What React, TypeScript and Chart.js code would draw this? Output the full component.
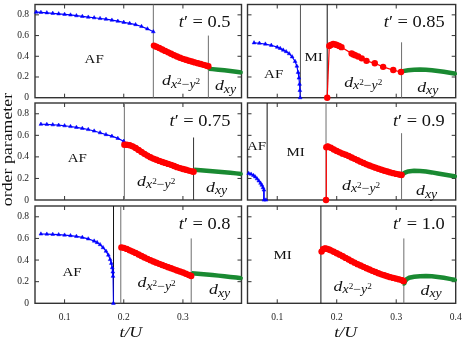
import React, { useEffect, useRef } from 'react';
import { Chart, registerables } from 'chart.js';

Chart.register(...registerables);

type P = [number, number];

// ---- axis values ----
const X_MIN = 0.05;
const X_MAX_LEFT = 0.399;
const X_MAX_RIGHT = 0.4;
const X_STEP = 0.1;
const Y_MIN = 0;
const Y_MAX = 0.9;
const Y_STEP = 0.2;

const tPrimeValues = ['0.5', '0.85', '0.75', '0.9', '0.8', '1.0'];

// ---- t' = 0.5 ----
const af05: P[] = [[0.052,0.826],[0.06,0.824],[0.07,0.820],[0.08,0.815],[0.09,0.810],[0.10,0.805],[0.11,0.799],[0.12,0.792],[0.13,0.785],[0.14,0.778],[0.15,0.772],[0.16,0.765],[0.17,0.758],[0.18,0.749],[0.19,0.739],[0.20,0.728],[0.21,0.718],[0.22,0.706],[0.23,0.688],[0.24,0.665],[0.25,0.637]];
const dx05: P[] = [[0.251,0.503],[0.255,0.492],[0.26,0.48],[0.265,0.466],[0.27,0.452],[0.275,0.438],[0.28,0.424],[0.285,0.411],[0.29,0.398],[0.295,0.386],[0.30,0.375],[0.305,0.366],[0.31,0.357],[0.315,0.349],[0.32,0.341],[0.325,0.333],[0.33,0.325],[0.335,0.317],[0.34,0.309],[0.343,0.304]];
const dxy05: P[] = [[0.344,0.279],[0.35,0.276],[0.36,0.270],[0.37,0.264],[0.38,0.257],[0.39,0.250],[0.399,0.244]];
const bnd05: P[] = [[0.25,0.9],[0.343,0.6]];

// ---- t' = 0.85 ----
const af085: P[] = [[0.061,0.530],[0.07,0.526],[0.08,0.518],[0.09,0.506],[0.10,0.488],[0.105,0.476],[0.11,0.460],[0.115,0.445],[0.12,0.425],[0.125,0.395],[0.13,0.35],[0.133,0.305],[0.135,0.245],[0.1365,0.19],[0.1375,0.13],[0.138,0.07],[0.1385,0.0]];
const dx085: P[] = [[0.184,0],[0.1875,0.50],[0.19,0.51],[0.194,0.518],[0.1975,0.515],[0.2,0.51],[0.204,0.50],[0.208,0.488],[0.225,0.428],[0.228,0.418],[0.231,0.41],[0.236,0.398],[0.242,0.38],[0.25,0.356],[0.264,0.332],[0.278,0.298],[0.295,0.267],[0.308,0.248]];
const dxy085: P[] = [[0.309,0.254],[0.32,0.265],[0.33,0.27],[0.34,0.272],[0.35,0.27],[0.36,0.265],[0.37,0.258],[0.38,0.25],[0.39,0.241],[0.40,0.232]];
const bnd085: P[] = [[0.139,0.9],[0.184,0.9],[0.309,0.535]];

// ---- t' = 0.75 ----
const af075: P[] = [[0.06,0.703],[0.07,0.701],[0.08,0.698],[0.09,0.694],[0.10,0.689],[0.11,0.682],[0.12,0.674],[0.13,0.665],[0.14,0.654],[0.15,0.640],[0.16,0.624],[0.17,0.607],[0.18,0.592],[0.19,0.572],[0.20,0.545]];
const dx075: P[] = [[0.201,0.512],[0.205,0.512],[0.21,0.508],[0.215,0.498],[0.22,0.483],[0.225,0.465],[0.23,0.446],[0.235,0.428],[0.24,0.412],[0.245,0.397],[0.25,0.384],[0.255,0.373],[0.26,0.363],[0.265,0.353],[0.27,0.344],[0.275,0.335],[0.28,0.326],[0.285,0.316],[0.29,0.305],[0.295,0.296],[0.30,0.288],[0.305,0.281],[0.31,0.273],[0.315,0.266],[0.318,0.262]];
const dxy075: P[] = [[0.319,0.28],[0.33,0.276],[0.34,0.272],[0.35,0.267],[0.36,0.262],[0.37,0.257],[0.38,0.252],[0.39,0.247],[0.399,0.242]];
const bnd075: P[] = [[0.201,0.9],[0.318,0.58]];

// ---- t' = 0.9 ----
const af09: P[] = [[0.052,0.247],[0.056,0.240],[0.06,0.228],[0.063,0.215],[0.066,0.197],[0.069,0.177],[0.072,0.156],[0.074,0.138],[0.076,0.115],[0.0776,0.093],[0.0776,0.0],[0.081,0.0]];
const dx09: P[] = [[0.182,0],[0.1825,0.49],[0.185,0.496],[0.19,0.485],[0.195,0.469],[0.20,0.455],[0.205,0.442],[0.21,0.43],[0.215,0.42],[0.22,0.408],[0.225,0.395],[0.23,0.382],[0.235,0.369],[0.24,0.356],[0.245,0.343],[0.25,0.331],[0.255,0.32],[0.26,0.31],[0.265,0.3],[0.27,0.29],[0.275,0.281],[0.28,0.272],[0.285,0.264],[0.29,0.256],[0.295,0.249],[0.30,0.242],[0.305,0.236],[0.309,0.232]];
const dxy09: P[] = [[0.309,0.234],[0.315,0.255],[0.32,0.265],[0.33,0.271],[0.34,0.27],[0.35,0.264],[0.36,0.256],[0.37,0.246],[0.38,0.237],[0.39,0.228],[0.40,0.219]];
const bnd09: P[] = [[0.083,0.9],[0.182,0.9],[0.309,0.62]];

// ---- t' = 0.8 ----
const af08: P[] = [[0.06,0.641],[0.07,0.640],[0.08,0.638],[0.09,0.635],[0.10,0.631],[0.11,0.626],[0.12,0.619],[0.13,0.610],[0.14,0.596],[0.15,0.576],[0.155,0.562],[0.16,0.543],[0.165,0.515],[0.17,0.482],[0.174,0.446],[0.177,0.405],[0.179,0.37],[0.1805,0.33],[0.1815,0.29],[0.1818,0.25],[0.1825,0.0]];
const dx08: P[] = [[0.196,0.517],[0.20,0.513],[0.205,0.503],[0.21,0.49],[0.215,0.478],[0.22,0.466],[0.225,0.452],[0.23,0.438],[0.235,0.424],[0.24,0.411],[0.245,0.399],[0.25,0.387],[0.255,0.376],[0.26,0.365],[0.265,0.354],[0.27,0.344],[0.275,0.334],[0.28,0.324],[0.285,0.314],[0.29,0.304],[0.295,0.294],[0.30,0.285],[0.305,0.274],[0.31,0.262],[0.314,0.253]];
const dxy08: P[] = [[0.315,0.277],[0.32,0.276],[0.33,0.271],[0.34,0.266],[0.35,0.261],[0.36,0.256],[0.37,0.250],[0.38,0.244],[0.39,0.238],[0.399,0.232]];
const bnd08: P[] = [[0.1827,0.9],[0.195,0.9],[0.314,0.6]];

// ---- t' = 1.0 ----
const dx10: P[] = [[0.1745,0.478],[0.177,0.5],[0.18,0.508],[0.183,0.505],[0.187,0.497],[0.19,0.49],[0.195,0.477],[0.20,0.463],[0.205,0.45],[0.21,0.435],[0.215,0.42],[0.22,0.405],[0.225,0.39],[0.23,0.376],[0.235,0.362],[0.24,0.349],[0.245,0.337],[0.25,0.324],[0.255,0.312],[0.26,0.3],[0.265,0.289],[0.27,0.278],[0.275,0.268],[0.28,0.259],[0.285,0.25],[0.29,0.242],[0.295,0.235],[0.30,0.228],[0.305,0.221],[0.31,0.213],[0.3125,0.205]];
const dxy10: P[] = [[0.3128,0.175],[0.315,0.205],[0.318,0.225],[0.322,0.237],[0.33,0.246],[0.34,0.25],[0.35,0.252],[0.36,0.25],[0.37,0.244],[0.38,0.236],[0.39,0.226],[0.40,0.215]];
const bnd10: P[] = [[0.1734,0.9],[0.3128,0.6]];

// ---- styles / layout ----
const W = 463;
const H = 344;
const COL_L = [35, 247.5];
const COL_R = [241.5, 455.7];
const ROW_T = [0.7, 103, 206];
const ROW_B = [97.7, 200, 303.3];
const FONT = '"Liberation Serif", "Times New Roman", serif';
const SX = 1.15;
const FRAME = '#333333';
const GRAY = '#6e6e6e';
const BLACK = '#111111';
const BLUE = '#0000ff';
const RED = '#ff0000';
const GREEN = '#1a8a32';
const TICK = 4;

type Lbl = { kind: 'AF' | 'MI' | 'dx' | 'dxy'; x: number; y: number };
interface PanelCfg {
  tp: string;
  col: number;
  row: number;
  af?: P[];
  dx: P[];
  dxy: P[];
  bnd: P[];
  bndColors: string[];
  redThin: boolean;
  labels: Lbl[];
}

const panels: PanelCfg[] = [
  { tp: tPrimeValues[0], col: 0, row: 0, af: af05, dx: dx05, dxy: dxy05, bnd: bnd05, bndColors: [GRAY, GRAY], redThin: false,
    labels: [{ kind: 'AF', x: 0.15, y: 0.333 }, { kind: 'dx', x: 0.297, y: 0.118 }, { kind: 'dxy', x: 0.372, y: 0.071 }] },
  { tp: tPrimeValues[1], col: 1, row: 0, af: af085, dx: dx085, dxy: dxy085, bnd: bnd085, bndColors: ['#555555', BLACK, GRAY], redThin: true,
    labels: [{ kind: 'AF', x: 0.094, y: 0.194 }, { kind: 'MI', x: 0.161, y: 0.358 }, { kind: 'dx', x: 0.2445, y: 0.108 }, { kind: 'dxy', x: 0.353, y: 0.056 }] },
  { tp: tPrimeValues[2], col: 0, row: 1, af: af075, dx: dx075, dxy: dxy075, bnd: bnd075, bndColors: [GRAY, '#333333'], redThin: false,
    labels: [{ kind: 'AF', x: 0.1215, y: 0.35 }, { kind: 'dx', x: 0.2548, y: 0.13 }, { kind: 'dxy', x: 0.357, y: 0.077 }] },
  { tp: tPrimeValues[3], col: 1, row: 1, af: af09, dx: dx09, dxy: dxy09, bnd: bnd09, bndColors: [BLACK, GRAY, GRAY], redThin: false,
    labels: [{ kind: 'AF', x: 0.0653, y: 0.4675 }, { kind: 'MI', x: 0.131, y: 0.408 }, { kind: 'dx', x: 0.241, y: 0.093 }, { kind: 'dxy', x: 0.351, y: 0.046 }] },
  { tp: tPrimeValues[4], col: 0, row: 2, af: af08, dx: dx08, dxy: dxy08, bnd: bnd08, bndColors: [BLACK, GRAY, GRAY], redThin: false,
    labels: [{ kind: 'AF', x: 0.1127, y: 0.2525 }, { kind: 'dx', x: 0.2556, y: 0.148 }, { kind: 'dxy', x: 0.362, y: 0.086 }] },
  { tp: tPrimeValues[5], col: 1, row: 2, dx: dx10, dxy: dxy10, bnd: bnd10, bndColors: [BLACK, GRAY], redThin: false,
    labels: [{ kind: 'MI', x: 0.1092, y: 0.41 }, { kind: 'dx', x: 0.2268, y: 0.1166 }, { kind: 'dxy', x: 0.3586, y: 0.077 }] },
];

const xTitleCenters = [0.212, 0.215];

type Run = { t: string; size: number; italic?: boolean; dy?: number };

function drawRuns(ctx: CanvasRenderingContext2D, runs: Run[], x: number, y: number, align: 'center' | 'right') {
  ctx.save();
  ctx.translate(x, y);
  ctx.scale(SX, 1);
  ctx.textBaseline = 'alphabetic';
  ctx.textAlign = 'left';
  ctx.fillStyle = '#111';
  const fontOf = (r: Run) => `${r.italic ? 'italic ' : ''}${r.size}px ${FONT}`;
  let w = 0;
  for (const r of runs) {
    ctx.font = fontOf(r);
    w += ctx.measureText(r.t).width;
  }
  let cx = align === 'center' ? -w / 2 : -w;
  for (const r of runs) {
    ctx.font = fontOf(r);
    ctx.fillText(r.t, cx, r.dy || 0);
    cx += ctx.measureText(r.t).width;
  }
  ctx.restore();
}

const RUNS: Record<string, Run[]> = {
  AF: [{ t: 'AF', size: 13 }],
  MI: [{ t: 'MI', size: 13 }],
  dx: [
    { t: 'd', size: 15.5, italic: true },
    { t: 'x', size: 12, italic: true, dy: 2.5 },
    { t: '2', size: 8, dy: -1.7 },
    { t: '\u2212', size: 12, dy: 2.5 },
    { t: 'y', size: 12, italic: true, dy: 2.5 },
    { t: '2', size: 8, dy: -1.7 },
  ],
  dxy: [
    { t: 'd', size: 15.5, italic: true },
    { t: 'xy', size: 12, italic: true, dy: 2.5 },
  ],
};

const decorPlugin = {
  id: 'decor',
  beforeDatasetsDraw(chart: any) {
    const { ctx, chartArea: a } = chart;
    const xs = chart.scales.x;
    const ys = chart.scales.y;
    ctx.save();
    ctx.strokeStyle = FRAME;
    ctx.lineWidth = 1;
    ctx.beginPath();
    for (const t of xs.ticks) {
      const p = xs.getPixelForValue(t.value);
      if (p <= a.left + 1 || p >= a.right - 1) continue;
      ctx.moveTo(p, a.bottom);
      ctx.lineTo(p, a.bottom - TICK);
      ctx.moveTo(p, a.top);
      ctx.lineTo(p, a.top + TICK);
    }
    for (const t of ys.ticks) {
      const p = ys.getPixelForValue(t.value);
      if (p >= a.bottom - 1 || p <= a.top + 1) continue;
      ctx.moveTo(a.left, p);
      ctx.lineTo(a.left + TICK, p);
      ctx.moveTo(a.right, p);
      ctx.lineTo(a.right - TICK, p);
    }
    ctx.stroke();
    ctx.lineWidth = 1.4;
    ctx.strokeRect(a.left, a.top, a.right - a.left, a.bottom - a.top);
    ctx.restore();
  },
  afterDatasetsDraw(chart: any, _args: any, opts: any) {
    const { ctx, chartArea: a } = chart;
    const xs = chart.scales.x;
    const ys = chart.scales.y;
    const p: PanelCfg = opts.panel;
    for (const l of p.labels) {
      drawRuns(ctx, RUNS[l.kind], xs.getPixelForValue(l.x), ys.getPixelForValue(l.y), 'center');
    }
    drawRuns(ctx, [
      { t: 't', size: 16, italic: true },
      { t: '\u2032', size: 16 },
      { t: ' = ' + p.tp, size: 16 },
    ], a.right - 11, a.top + 22.5, 'right');
    if (p.row === 2) {
      drawRuns(ctx, [{ t: 't/U', size: 15.5, italic: true }], xs.getPixelForValue(xTitleCenters[p.col]), a.bottom + 34, 'center');
    }
    if (p.row === 1 && p.col === 0) {
      ctx.save();
      ctx.translate(12, 149.5);
      ctx.rotate(-Math.PI / 2);
      ctx.scale(SX, 1);
      ctx.font = `15.5px ${FONT}`;
      ctx.fillStyle = '#111';
      ctx.textAlign = 'center';
      ctx.textBaseline = 'alphabetic';
      ctx.fillText('order parameter', 0, 0);
      ctx.restore();
    }
  },
};

const toXY = (arr: P[]) => arr.map(([x, y]) => ({ x, y }));

function buildDatasets(p: PanelCfg) {
  const ds: any[] = [];
  p.bnd.forEach(([x, top], i) => {
    ds.push({
      data: [{ x, y: 0 }, { x, y: top }],
      showLine: true, borderColor: p.bndColors[i], borderWidth: 1, pointRadius: 0, order: 10, clip: false,
    });
  });
  if (p.af) {
    ds.push({
      data: toXY(p.af), showLine: true, borderColor: BLUE, backgroundColor: BLUE, pointBorderColor: BLUE,
      borderWidth: 1.2, pointStyle: 'triangle', pointRadius: 2.2, pointBorderWidth: 0.5, order: 1, clip: false,
      segment: { borderWidth: (c: any) => (c.p1.parsed.y === 0 ? 1 : undefined) },
    });
  }
  ds.push({
    data: toXY(p.dxy), showLine: true, borderColor: GREEN, backgroundColor: GREEN, pointBorderColor: GREEN,
    borderWidth: 4.5, pointStyle: 'rect', pointRadius: 1.8, pointBorderWidth: 0, order: 2, clip: false,
  });
  ds.push({
    data: toXY(p.dx), showLine: true, borderColor: RED, backgroundColor: RED, pointBorderColor: RED,
    borderWidth: p.redThin ? 1.2 : 5.5, pointStyle: 'circle', pointRadius: 3.2, pointBorderWidth: 0, order: 0, clip: false,
    segment: { borderWidth: (c: any) => (c.p0.parsed.y === 0 ? 1.2 : undefined) },
  });
  return ds;
}

function makeConfig(p: PanelCfg): any {
  const left = COL_L[p.col];
  const right = COL_R[p.col];
  const top = ROW_T[p.row];
  const bottom = ROW_B[p.row];
  const showY = p.col === 0;
  const showX = p.row === 2;
  // Axis boxes take exactly the room outside the plot box, so labels are not clipped.
  const yW = showY ? left : 0;
  const xH = showX ? H - bottom : 0;
  const fixY = (s: any) => { s.width = yW; s.paddingTop = 0; s.paddingBottom = 0; s.paddingLeft = 0; s.paddingRight = 0; };
  const fixX = (s: any) => { s.height = xH; s.paddingTop = 0; s.paddingBottom = 0; s.paddingLeft = 0; s.paddingRight = 0; };
  return {
    type: 'scatter',
    data: { datasets: buildDatasets(p) },
    options: {
      responsive: false,
      animation: false,
      devicePixelRatio: 1,
      events: [],
      layout: { padding: { left: left - yW, right: W - right, top, bottom: H - bottom - xH } },
      plugins: { legend: { display: false }, tooltip: { enabled: false }, decor: { panel: p } },
      scales: {
        x: {
          type: 'linear', min: X_MIN, max: p.col === 0 ? X_MAX_LEFT : X_MAX_RIGHT,
          ticks: { stepSize: X_STEP, includeBounds: false, display: showX, padding: 8, color: '#222', font: { family: FONT, size: 9.5 }, maxRotation: 0, autoSkip: false },
          grid: { display: false, drawTicks: false }, border: { display: false }, afterFit: fixX,
        },
        y: {
          type: 'linear', min: Y_MIN, max: Y_MAX,
          ticks: { stepSize: Y_STEP, includeBounds: false, display: showY, padding: 6, color: '#222', font: { family: FONT, size: 9.5 }, autoSkip: false },
          grid: { display: false, drawTicks: false }, border: { display: false }, afterFit: fixY,
        },
      },
    },
    plugins: [decorPlugin],
  };
}

function Panel({ cfg }: { cfg: PanelCfg }) {
  const ref = useRef<HTMLCanvasElement | null>(null);
  useEffect(() => {
    if (!ref.current) return;
    const chart = new Chart(ref.current, makeConfig(cfg));
    return () => chart.destroy();
  }, [cfg]);
  return (
    <canvas
      ref={ref}
      width={W}
      height={H}
      style={{ position: 'absolute', left: 0, top: 0, width: W, height: H }}
    />
  );
}

export default function App() {
  return (
    <div style={{ position: 'absolute', left: 0, top: 0, width: W, height: H, background: '#fff', overflow: 'hidden' }}>
      {panels.map((p, i) => (
        <Panel key={i} cfg={p} />
      ))}
    </div>
  );
}
